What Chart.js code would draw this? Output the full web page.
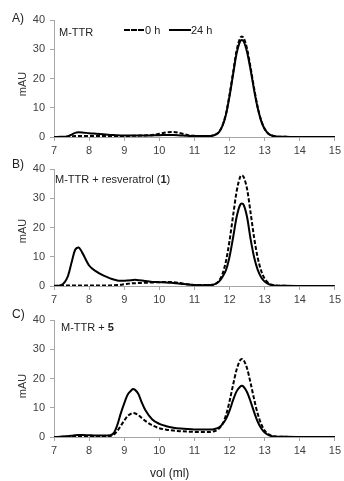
<!DOCTYPE html>
<html>
<head>
<meta charset="utf-8">
<script src="https://cdn.jsdelivr.net/npm/chart.js@4/dist/chart.umd.min.js"></script>
<style>
  html, body { margin: 0; padding: 0; background: #fff; }
  #wrap { position: relative; width: 344px; height: 481px; overflow: hidden; font-family: 'Liberation Sans', Arial, sans-serif; color: #222; }
  canvas { position: absolute; left: 0; }
  .t { position: absolute; white-space: nowrap; line-height: 1; transform: translateY(-50%); }
  .rot { position: absolute; white-space: nowrap; line-height: 1; transform: translate(-50%, -50%) rotate(-90deg); font-size: 11px; color: #333; }
  .sw { display: inline-block; position: absolute; height: 0; }
</style>
</head>
<body>
<div id="wrap">
  <canvas id="cA" width="344" height="153" style="top:8px"></canvas>
  <canvas id="cB" width="344" height="153" style="top:157px"></canvas>
  <canvas id="cC" width="344" height="153" style="top:308px"></canvas>

  <div class="t" style="left:12px;top:18px;font-size:12px;">A)</div>
  <div class="t" style="left:12px;top:164px;font-size:12px;">B)</div>
  <div class="t" style="left:12px;top:314px;font-size:12px;">C)</div>

  <div class="rot" style="left:22px;top:84px;">mAU</div>
  <div class="rot" style="left:22px;top:231px;">mAU</div>
  <div class="rot" style="left:22px;top:386px;">mAU</div>

  <div class="t" style="left:59px;top:32px;font-size:11px;">M-TTR</div>
  <div class="t" style="left:55px;top:179px;font-size:11px;">M-TTR + resveratrol (<b>1</b>)</div>
  <div class="t" style="left:61px;top:327px;font-size:11px;">M-TTR + <b>5</b></div>

  <div class="sw" style="left:124px;top:29px;width:20px;border-top:2px dashed #000;"></div>
  <div class="t" style="left:145px;top:30px;font-size:11px;">0 h</div>
  <div class="sw" style="left:169px;top:29px;width:22px;border-top:2px solid #000;"></div>
  <div class="t" style="left:191px;top:30px;font-size:11px;">24 h</div>

  <div class="t" style="left:150px;top:473px;font-size:12px;">vol (ml)</div>
</div>
<script>
// elution volume (ml)
const vol = [7.0, 7.2, 7.4, 7.5, 7.6, 7.7, 7.8,
  8.0, 8.2, 8.4, 8.6, 8.7, 8.8, 8.9,
  9.0, 9.1, 9.2, 9.25, 9.3, 9.4, 9.5, 9.6,
  9.8, 10.0, 10.2, 10.4, 10.6, 10.8, 11.0, 11.2,
  11.4, 11.5, 11.6, 11.7, 11.8, 11.9,
  12.0, 12.1, 12.2, 12.3, 12.35, 12.4, 12.5, 12.6, 12.7, 12.8, 12.9,
  13.0, 13.1, 13.2, 13.4, 13.6, 14.0, 14.5, 15.0];

const xTicks = [7, 8, 9, 10, 11, 12, 13, 14, 15];
const yTicks = [0, 10, 20, 30, 40];

// Panel A: M-TTR
const A_0h = [0, 0, 0.1, 0.2, 0.3, 0.35, 0.35,
  0.3, 0.3, 0.3, 0.3, 0.3, 0.3, 0.3,
  0.3, 0.35, 0.4, 0.4, 0.4, 0.45, 0.5, 0.55,
  0.7, 1.1, 1.6, 1.7, 1.3, 0.7, 0.4, 0.3,
  0.3, 0.4, 0.8, 1.8, 4.0, 8.0,
  14.5, 22.0, 29.5, 33.8, 34.4, 33.9, 30.1, 23.7, 16.6, 10.3, 5.7,
  2.8, 1.2, 0.5, 0.1, 0.05, 0, 0, 0];
const A_24h = [0, 0.05, 0.3, 0.8, 1.4, 1.6, 1.55,
  1.3, 1.1, 0.9, 0.7, 0.65, 0.6, 0.55,
  0.5, 0.5, 0.5, 0.5, 0.5, 0.5, 0.5, 0.5,
  0.55, 0.6, 0.7, 0.7, 0.55, 0.4, 0.3, 0.3,
  0.3, 0.4, 0.8, 1.7, 3.9, 7.8,
  14.0, 21.3, 28.5, 32.6, 33.2, 32.7, 29.0, 22.9, 16.0, 10.0, 5.5,
  2.7, 1.2, 0.5, 0.1, 0.05, 0, 0, 0];

// Panel B: M-TTR + resveratrol (1)
const B_0h = [0.1, 0.1, 0.15, 0.15, 0.2, 0.2, 0.2,
  0.2, 0.2, 0.2, 0.2, 0.25, 0.3, 0.4,
  0.6, 0.75, 0.9, 0.9, 0.95, 1.0, 1.05, 1.1,
  1.2, 1.3, 1.4, 1.3, 1.0, 0.6, 0.35, 0.3,
  0.3, 0.35, 0.7, 1.8, 4.2, 8.6,
  15.5, 24.0, 32.2, 37.2, 37.8, 37.3, 33.1, 25.0, 16.5, 9.8, 5.2,
  2.5, 1.1, 0.45, 0.1, 0.05, 0, 0, 0];
const B_24h = [0, 0.3, 3.5, 8.0, 12.3, 13.2, 11.5,
  7.0, 5.0, 3.6, 2.6, 2.2, 1.9, 1.8,
  1.8, 1.9, 2.0, 2.05, 2.1, 2.0, 1.9, 1.7,
  1.4, 1.3, 1.2, 1.0, 0.8, 0.5, 0.3, 0.25,
  0.3, 0.4, 0.7, 1.5, 3.2, 5.5,
  10.0, 16.5, 23.5, 27.7, 28.2, 27.8, 23.5, 16.0, 9.8, 5.6, 3.0,
  1.5, 0.7, 0.3, 0.1, 0.05, 0, 0, 0];

// Panel C: M-TTR + 5
const C_0h = [0, 0.05, 0.15, 0.2, 0.3, 0.35, 0.35,
  0.3, 0.3, 0.3, 0.35, 0.8, 2.0, 3.8,
  5.6, 7.2, 8.0, 8.2, 8.1, 7.5, 6.5, 5.5,
  4.0, 3.0, 2.5, 2.2, 2.0, 1.85, 1.75, 1.7,
  1.7, 1.8, 2.1, 2.9, 4.5, 7.5,
  12.2, 17.8, 23.0, 26.2, 26.7, 26.3, 23.4, 18.4, 12.9, 8.0, 4.5,
  2.2, 1.0, 0.4, 0.1, 0.05, 0, 0, 0];
const C_24h = [0, 0.1, 0.3, 0.4, 0.6, 0.7, 0.7,
  0.6, 0.5, 0.5, 0.6, 1.3, 4.0, 8.0,
  11.5, 14.5, 15.9, 16.4, 16.2, 14.8, 11.8, 9.2,
  6.0, 4.5, 3.7, 3.2, 2.9, 2.7, 2.6, 2.6,
  2.6, 2.6, 2.8, 3.3, 4.4, 6.2,
  9.0, 12.6, 15.6, 17.2, 17.5, 17.2, 15.3, 12.1, 8.5, 5.3, 3.0,
  1.5, 0.7, 0.3, 0.1, 0.05, 0, 0, 0];

const FONT = "'Liberation Sans', Arial, sans-serif";
const AXIS = '#a6a6a6';

function pts(arr) { return vol.map((x, i) => ({ x: x, y: arr[i] })); }

function makeChart(id, zero, day) {
  const ds = (label, arr, dash) => ({
    label: label,
    data: pts(arr),
    borderColor: '#000',
    borderWidth: 2,
    borderDash: dash,
    pointRadius: 0,
    fill: false,
    cubicInterpolationMode: 'monotone'
  });
  return new Chart(document.getElementById(id), {
    type: 'line',
    data: { datasets: [ds('0 h', zero, [4, 2]), ds('24 h', day, [])] },
    options: {
      responsive: false,
      animation: false,
      layout: { padding: { left: 0, right: 8, top: 12, bottom: 0 } },
      plugins: { legend: { display: false }, tooltip: { enabled: false } },
      scales: {
        x: {
          type: 'linear', min: 7, max: 15,
          afterBuildTicks: s => { s.ticks = xTicks.map(v => ({ value: v })); },
          afterFit: s => { s.height = 24; },
          grid: { display: true, drawOnChartArea: false, drawTicks: true, tickLength: 4, color: AXIS },
          border: { display: true, color: AXIS, width: 1 },
          ticks: { color: '#404040', font: { family: FONT, size: 11 }, padding: 3, maxRotation: 0 }
        },
        y: {
          min: 0, max: 40,
          afterBuildTicks: s => { s.ticks = yTicks.map(v => ({ value: v })); },
          afterFit: s => { s.width = 54; },
          grid: { display: true, drawOnChartArea: false, drawTicks: true, tickLength: 4, color: AXIS },
          border: { display: true, color: AXIS, width: 1 },
          ticks: { color: '#404040', font: { family: FONT, size: 11 }, padding: 5 }
        }
      }
    }
  });
}

makeChart('cA', A_0h, A_24h);
makeChart('cB', B_0h, B_24h);
makeChart('cC', C_0h, C_24h);
</script>
</body>
</html>
